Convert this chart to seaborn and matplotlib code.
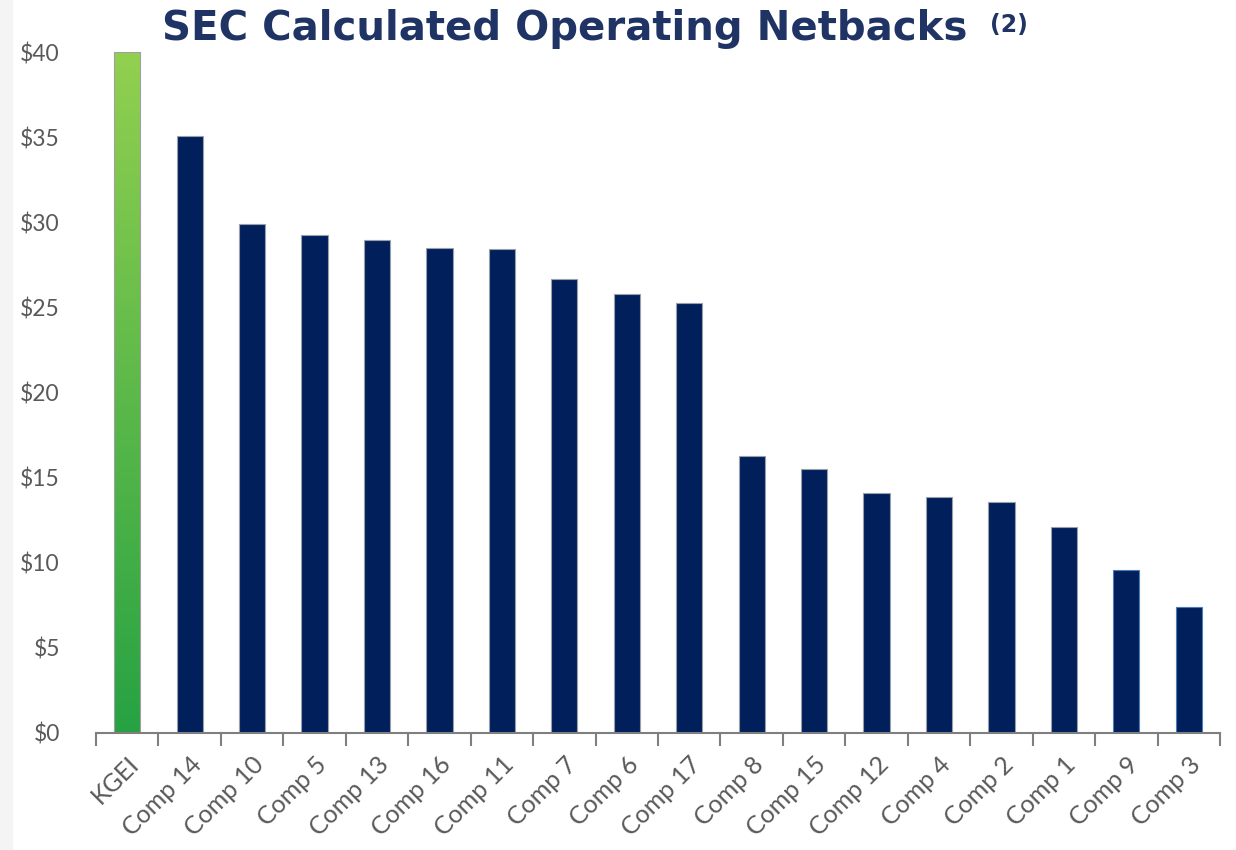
import numpy as np
import pandas as pd
import matplotlib
matplotlib.use("Agg")
import matplotlib.pyplot as plt
from matplotlib.colors import LinearSegmentedColormap
from matplotlib.ticker import FixedLocator
import seaborn as sns

companies = ["KGEI", "Comp 14", "Comp 10", "Comp 5", "Comp 13", "Comp 16", "Comp 11",
             "Comp 7", "Comp 6", "Comp 17", "Comp 8", "Comp 15", "Comp 12", "Comp 4",
             "Comp 2", "Comp 1", "Comp 9", "Comp 3"]
netbacks = [40.0, 35.05, 29.9, 29.25, 28.95, 28.5, 28.4, 26.65, 25.8, 25.25,
            16.27, 15.5, 14.1, 13.87, 13.56, 12.08, 9.57, 7.42]
y_ticks = [0, 5, 10, 15, 20, 25, 30, 35, 40]

navy = "#001F5B"
grey = "#7F7F7F"

df = pd.DataFrame({"company": companies, "netback": netbacks})

sns.set_style("white")
plt.rcParams["font.family"] = ["Lato", "DejaVu Sans"]

fig = plt.figure(figsize=(12.36, 8.5), dpi=100)
ax = fig.add_axes([96 / 1236, 117 / 850, (1220 - 96) / 1236, (733 - 52) / 850])

# light grey strip on the left edge of the slide (behind everything)
fig.patches.append(plt.Rectangle((0, 0), 12 / 1236, 1, transform=fig.transFigure,
                                 color="#F4F4F4", zorder=-5))

sns.barplot(data=df, x="company", y="netback", color=navy, width=0.42,
            saturation=1, ax=ax, zorder=2)

for i, bar in enumerate(ax.patches):
    bar.set_edgecolor("#4A7EBB" if companies[i] in ("Comp 9", "Comp 3") else "#9AA0AA")
    bar.set_linewidth(0.8)

# green gradient on the KGEI bar
kg = ax.patches[0]
x0, w, h = kg.get_x(), kg.get_width(), kg.get_height()
kg.set_facecolor("none")
kg.set_edgecolor("#A0A0A0")
cmap = LinearSegmentedColormap.from_list("kg", ["#27A243", "#92D050"])
grad = np.linspace(0, 1, 256).reshape(-1, 1)
im = ax.imshow(grad, cmap=cmap, origin="lower", aspect="auto",
               extent=[x0, x0 + w, 0, h], zorder=1.5)
im.set_clip_path(kg)

ax.set_xlim(-0.5, len(companies) - 0.5)
ax.set_ylim(0, 40)
ax.set_yticks(y_ticks)
ax.set_yticklabels([f"${v}" for v in y_ticks], fontsize=16.5, color="#595959")
ax.tick_params(axis="y", length=0, pad=26)

ax.set_xticks(range(len(companies)))
ax.set_xticklabels(companies, rotation=45, ha="right", rotation_mode="anchor",
                   fontsize=18, color="#595959")
ax.xaxis.set_minor_locator(FixedLocator(np.arange(-0.5, len(companies), 1)))
ax.tick_params(axis="x", which="major", length=0, pad=14, bottom=True)
ax.tick_params(axis="x", which="minor", length=9, width=1.5, color=grey,
               direction="out", bottom=True)

ax.set_xlabel("")
ax.set_ylabel("")
for s in ["top", "right", "left"]:
    ax.spines[s].set_visible(False)
ax.spines["bottom"].set_color(grey)
ax.spines["bottom"].set_linewidth(1.5)

fig.text(162 / 1236, 1 - 29 / 850, "SEC Calculated Operating Netbacks",
         ha="left", va="center", fontsize=29, fontweight="bold", color="#1F3464",
         family=["DejaVu Sans"])
fig.text(990 / 1236, 1 - 25 / 850, "(2)", ha="left", va="center",
         fontsize=17, fontweight="bold", color="#1F3464", family=["DejaVu Sans"])

fig.savefig("out.png", dpi=100)
